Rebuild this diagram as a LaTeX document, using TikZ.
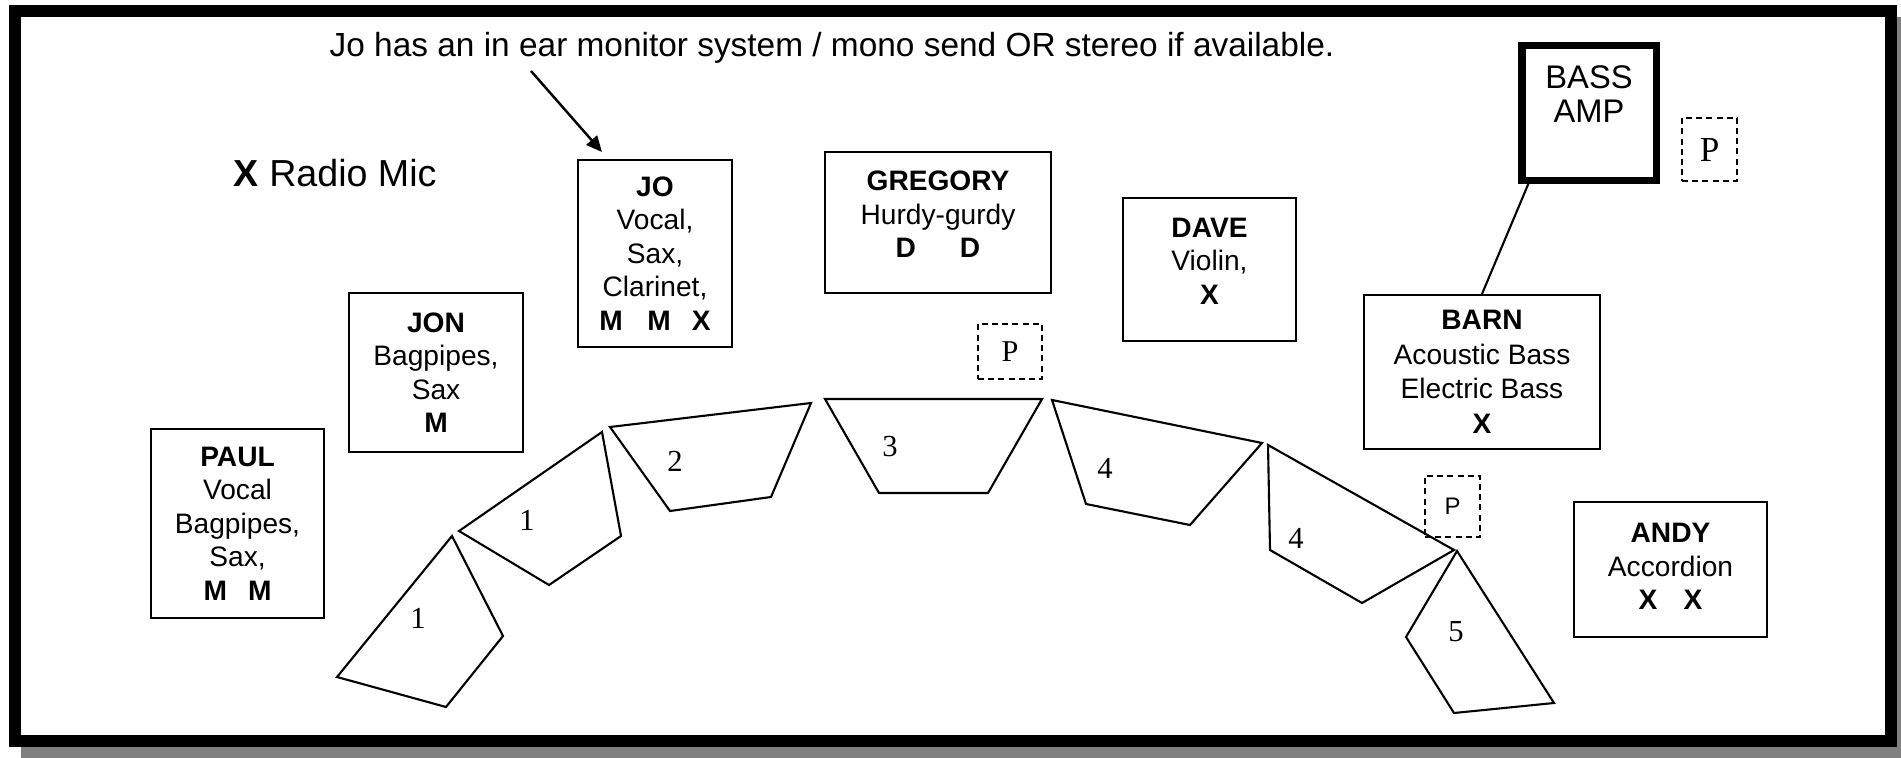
\documentclass[tikz,border=0pt]{standalone}
\usepackage{fontspec}
\setmainfont{Liberation Sans}
\newfontfamily\serifnum{Liberation Serif}
\usetikzlibrary{arrows.meta}

\tikzset{
	player/.style={draw, line width=.6pt, align=center, inner sep=0pt,
		font=\fontsize{8}{9.5}\selectfont},
	wedge/.style={draw, line width=.6pt},
	monnum/.style={font=\serifnum\fontsize{8.7}{10}\selectfont, inner sep=0pt},
	pbox/.style={draw, line width=.6pt, dash pattern=on 1.7pt off 1.2pt, inner sep=0pt},
}

\begin{document}
\begin{tikzpicture}[x=.01cm,y=-.01cm]
	\useasboundingbox (0,0) rectangle (1901,758);

	% stage frame with shadow
	\fill[black!50] (21,17) rectangle (1901,758);
	\draw[line width=3.4pt, fill=white] (15,11) rectangle (1891,741);

	% legend and note
	\node[font=\fontsize{10.7}{12}\selectfont, anchor=base west, inner sep=0pt] (legend) at (233,187) {\textbf{X} Radio Mic};
	\node[font=\fontsize{9.5}{11}\selectfont, anchor=base west, inner sep=0pt] (note) at (329,57) {Jo has an in ear monitor system / mono send OR stereo if available.};

	% players
	\node[player, minimum width=1.73cm, minimum height=1.89cm] (paul) at (237.5,523.5)
		{\textbf{PAUL}\\Vocal\\Bagpipes,\\Sax,\\\textbf{M\hspace{6pt}M}};
	\node[player, minimum width=1.74cm, minimum height=1.59cm] (jon) at (436,372.5)
		{\textbf{JON}\\Bagpipes,\\Sax\\\textbf{M}};
	\node[player, minimum width=1.54cm, minimum height=1.87cm] (jo) at (655,253.5)
		{\textbf{JO}\\Vocal,\\Sax,\\Clarinet,\\\textbf{M\hspace{7pt}M\hspace{6pt}X}};
	\node[player, minimum width=2.26cm, minimum height=1.41cm, text depth=4.6pt] (gregory) at (938,222.5)
		{\textbf{GREGORY}\\Hurdy-gurdy\\\textbf{D\hspace{12.5pt}D}};
	\node[player, minimum width=1.73cm, minimum height=1.43cm, text depth=4.8pt] (dave) at (1209.5,269.5)
		{\textbf{DAVE}\\Violin,\\\textbf{X}};
	\node[player, minimum width=2.36cm, minimum height=1.54cm, font=\fontsize{8}{9.8}\selectfont] (barn) at (1482,372)
		{\textbf{BARN}\\Acoustic Bass\\Electric Bass\\\textbf{X}};
	\node[player, minimum width=1.93cm, minimum height=1.35cm, text depth=1.6pt] (andy) at (1670.5,569.5)
		{\textbf{ANDY}\\Accordion\\\textbf{X\hspace{7.5pt}X}};

	% bass amp
	\node[draw, line width=2pt, minimum size=1.34cm, inner sep=0pt] (amp) at (1589,113) {};
	\node[font=\fontsize{9.3}{9.6}\selectfont, align=center, anchor=north, inner sep=0pt] (amptext) at (1589,65) {BASS\\AMP};
	\draw[line width=.6pt] ([xshift=.1cm]amp.south west) -- (barn.north);

	% power points
	\node[pbox, minimum width=.64cm, minimum height=.55cm, font=\serifnum\fontsize{8.6}{10}\selectfont] (pgreg) at (1010,351.5) {P};
	\node[pbox, minimum width=.55cm, minimum height=.63cm, font=\serifnum\fontsize{10}{12}\selectfont] (pamp) at (1709.5,149.5) {P};
	\node[pbox, minimum width=.55cm, minimum height=.61cm, font=\fontsize{6.8}{8}\selectfont] (pmon) at (1452.5,506.5) {P};

	% arrow to jo
	\coordinate (notefoot) at (531,71);
	\coordinate (jotip) at (602,152);
	\draw[line width=.7pt, -{Triangle[length=4.5pt,width=4pt]}] (notefoot) -- (jotip);

	% monitor wedges
	\draw[wedge] (452,536) -- (503,636) -- (446,707) -- (337,677) -- cycle;
	\draw[wedge] (459,531) -- (602,432) -- (621,536) -- (549,585) -- cycle;
	\draw[wedge] (610,427) -- (811,403) -- (771,497) -- (670,511) -- cycle;
	\draw[wedge] (825,399) -- (1042,399) -- (988,493) -- (879,493) -- cycle;
	\draw[wedge] (1052,400) -- (1262,443) -- (1190,525) -- (1086,504) -- cycle;
	\draw[wedge] (1268,445) -- (1454,550) -- (1362,603) -- (1270,550) -- cycle;
	\draw[wedge] (1457,551) -- (1554,703) -- (1454,713) -- (1406,637) -- cycle;

	\node[monnum] (mon1a) at (418,618) {1};
	\node[monnum] (mon1b) at (527,520) {1};
	\node[monnum] (mon2) at (675,461) {2};
	\node[monnum] (mon3) at (890,447) {3};
	\node[monnum] (mon4a) at (1105,468) {4};
	\node[monnum] (mon4b) at (1296,538) {4};
	\node[monnum] (mon5) at (1456,632) {5};
\end{tikzpicture}
\end{document}
